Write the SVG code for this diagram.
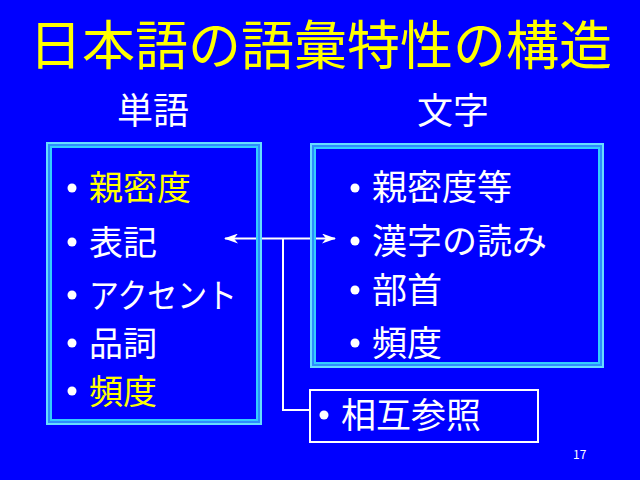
<svg xmlns="http://www.w3.org/2000/svg" width="640" height="480" viewBox="0 0 640 480">
<style>
text { font-family: "Noto Sans CJK JP", "Noto Sans", sans-serif; }
.title { font-size: 53px; fill: #FFFF00; }
.head { font-size: 36px; fill: #FFFFFF; }
.l { font-size: 34px; fill: #FFFFFF; }
.r { font-size: 35px; fill: #FFFFFF; }
.y { fill: #FFFF00; }
.bul { fill: #FFFFFF; }
.frameA { fill: none; stroke: #2E8CFF; stroke-width: 6; }
.frameB { fill: none; stroke: #33CCFF; stroke-width: 2; }
.frameC { fill: none; stroke: #66DDFF; stroke-width: 2; }
.conn { fill: none; stroke: #FFFFFF; stroke-width: 2; }
</style>
<defs>
<marker id="ah" viewBox="0 0 14 10" refX="13" refY="5" markerWidth="14" markerHeight="10" markerUnits="userSpaceOnUse" orient="auto-start-reverse">
<path d="M0,0 L14,5 L0,10 L4,5 Z" fill="#FFFFFF"/>
</marker>
</defs>
<rect x="0" y="0" width="640" height="480" fill="#0000FF"/>
<text class="title" x="29" y="65">日本語の語彙特性の構造</text>
<text class="head" x="117" y="124">単語</text>
<text class="head" x="417" y="124">文字</text>

<g id="connectors">
<line class="conn" x1="225" y1="238.5" x2="335" y2="238.5" marker-start="url(#ah)" marker-end="url(#ah)"/>
<polyline class="conn" points="283,238.5 283,410 309,410"/>
</g>

<g id="word">
<rect class="frameA" x="49" y="145" width="210" height="277"/>
<rect class="frameC" x="47" y="143" width="214" height="281"/>
<rect class="frameB" x="51" y="147" width="206" height="273"/>
<circle class="bul" cx="72" cy="188" r="4.5"/>
<text class="l y" x="89" y="200">親密度</text>
<circle class="bul" cx="72" cy="242" r="4.5"/>
<text class="l" x="89" y="255">表記</text>
<circle class="bul" cx="72" cy="295" r="4.5"/>
<text class="l" x="89" y="308" textLength="148" lengthAdjust="spacingAndGlyphs">アクセント</text>
<circle class="bul" cx="72" cy="343" r="4.5"/>
<text class="l" x="89" y="356">品詞</text>
<circle class="bul" cx="72" cy="391" r="4.5"/>
<text class="l y" x="89" y="404">頻度</text>
</g>

<g id="char">
<rect class="frameA" x="313" y="146" width="288" height="219"/>
<rect class="frameC" x="311" y="144" width="292" height="223"/>
<rect class="frameB" x="315" y="148" width="284" height="215"/>
<circle class="bul" cx="355" cy="188" r="4.5"/>
<text class="r" x="372" y="200">親密度等</text>
<circle class="bul" cx="355" cy="241" r="4.5"/>
<text class="r" x="372" y="254">漢字の読み</text>
<circle class="bul" cx="355" cy="290" r="4.5"/>
<text class="r" x="372" y="303">部首</text>
<circle class="bul" cx="355" cy="343" r="4.5"/>
<text class="r" x="372" y="356">頻度</text>
</g>

<g id="cross">
<rect x="310" y="390" width="228" height="52" fill="none" stroke="#FFFFFF" stroke-width="2"/>
<circle class="bul" cx="324" cy="415" r="4.5"/>
<text class="r" x="341" y="428">相互参照</text>
</g>

<text x="573" y="459" font-family="Liberation Sans, Arial, sans-serif" font-size="12" fill="#FFFFFF">17</text>
</svg>
